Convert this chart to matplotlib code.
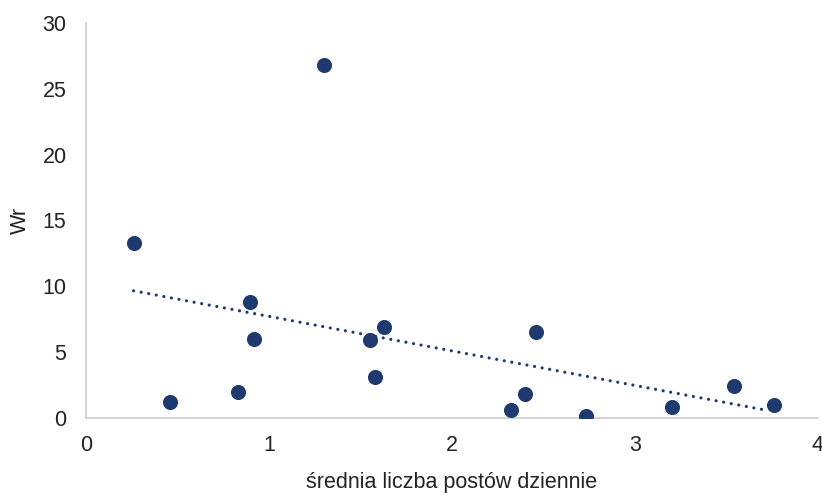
import numpy as np
import matplotlib
matplotlib.use("Agg")
import matplotlib.pyplot as plt

plt.rcParams['font.family'] = ['Liberation Sans', 'DejaVu Sans']

# average number of posts per day vs. Wr
posts_per_day = [0.26, 0.46, 0.83, 0.895, 0.92, 1.30, 1.55, 1.58, 1.63,
                 2.32, 2.40, 2.46, 2.73, 3.20, 3.54, 3.76]
wr_values = [13.3, 1.2, 2.0, 8.8, 6.0, 26.8, 5.9, 3.1, 6.9,
             0.6, 1.8, 6.5, 0.15, 0.8, 2.4, 0.95]
x_ticks = [0, 1, 2, 3, 4]
y_ticks = [0, 5, 10, 15, 20, 25, 30]

navy = '#1f3a6e'
axis_grey = '#d0d0d0'
text_col = '#222222'
fs = 15.5

fig = plt.figure(figsize=(8.22, 4.95), dpi=100)
ax = fig.add_axes([0.1046, 0.1556, 0.8905, 0.7979])

ax.scatter(posts_per_day, wr_values, s=118, color=navy, zorder=3, linewidths=0)

# linear trend line over the data range
x = np.array(posts_per_day)
y = np.array(wr_values)
slope, intercept = np.polyfit(x, y, 1)
xs = np.array([x.min(), x.max() - 0.03])
ax.plot(xs, slope * xs + intercept, color=navy, linestyle=(0, (0.01, 2.4)),
        linewidth=2.3, dash_capstyle='round', zorder=2)

ax.set_xlim(0, 4)
ax.set_ylim(0, 30)
ax.set_xticks(x_ticks)
ax.set_yticks(y_ticks)
ax.tick_params(length=0, labelsize=fs, colors=text_col)
ax.tick_params(axis='y', pad=14)
ax.tick_params(axis='x', pad=12)

for side in ('top', 'right'):
    ax.spines[side].set_visible(False)
for side in ('left', 'bottom'):
    ax.spines[side].set_color(axis_grey)
    ax.spines[side].set_linewidth(1.3)

ax.set_xlabel('średnia liczba postów dziennie', fontsize=fs, color=text_col, labelpad=12)
ax.set_ylabel('Wr', fontsize=fs, color=text_col, labelpad=8.5)

fig.savefig('out.png', dpi=100, facecolor='white')
